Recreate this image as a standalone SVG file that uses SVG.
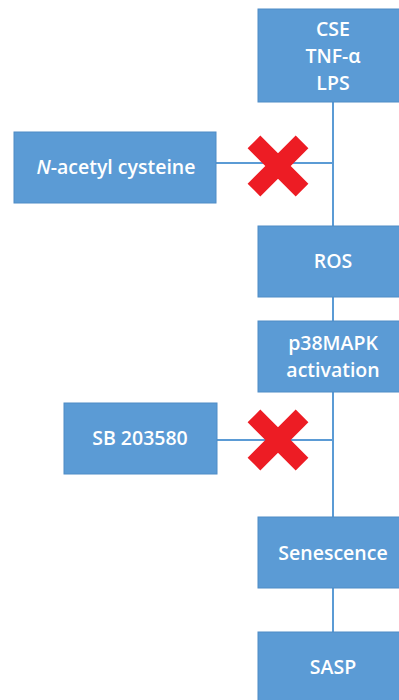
<svg xmlns="http://www.w3.org/2000/svg" width="399" height="700" viewBox="0 0 399 700">
<defs>
<style>
.box{fill:#5B9BD5;stroke:#4F8CC6;stroke-width:1}
.t{fill:#FFFFFF;font-family:"Open Sans","Noto Sans",sans-serif;font-size:19.5px;font-weight:600;text-anchor:middle}
.c{stroke:#5B9BD5;stroke-width:2;fill:none}
.x{fill:#ED1C24}
</style>
<polygon id="cross" points="0,-12.7 17.7,-30.4 30.4,-17.7 12.7,0 30.4,17.7 17.7,30.4 0,12.7 -17.7,30.4 -30.4,17.7 -12.7,0 -30.4,-17.7 -17.7,-30.4"/>
</defs>
<rect width="399" height="700" fill="#FFFFFF"/>
<g id="connectors">
<line class="c" x1="333" y1="102" x2="333" y2="226"/>
<line class="c" x1="216" y1="163" x2="333" y2="163"/>
<line class="c" x1="333" y1="297" x2="333" y2="321"/>
<line class="c" x1="333" y1="392" x2="333" y2="517"/>
<line class="c" x1="217" y1="440" x2="333" y2="440"/>
<line class="c" x1="333" y1="588" x2="333" y2="632"/>
</g>
<g id="cse"><rect class="box" x="258" y="9" width="150" height="93"/>
<text class="t" x="333" y="36">CSE</text><text class="t" x="333" y="63">TNF-α</text><text class="t" x="333" y="90">LPS</text></g>
<g id="nac"><rect class="box" x="14" y="132" width="202" height="71"/>
<text class="t" x="116" y="174"><tspan font-style="italic">N</tspan>-acetyl cysteine</text></g>
<g id="block1"><use href="#cross" class="x" x="278" y="166"/></g>
<g id="ros"><rect class="box" x="258" y="226" width="150" height="71"/>
<text class="t" x="333" y="268">ROS</text></g>
<g id="p38"><rect class="box" x="258" y="321" width="150" height="71"/>
<text class="t" x="333" y="350">p38MAPK</text><text class="t" x="333" y="377">activation</text></g>
<g id="sb"><rect class="box" x="64" y="403" width="153" height="71"/>
<text class="t" x="140" y="445">SB 203580</text></g>
<g id="block2"><use href="#cross" class="x" x="278" y="440"/></g>
<g id="senescence"><rect class="box" x="258" y="517" width="150" height="71"/>
<text class="t" x="333" y="560">Senescence</text></g>
<g id="sasp"><rect class="box" x="258" y="632" width="150" height="80"/>
<text class="t" x="333" y="674">SASP</text></g>
</svg>
